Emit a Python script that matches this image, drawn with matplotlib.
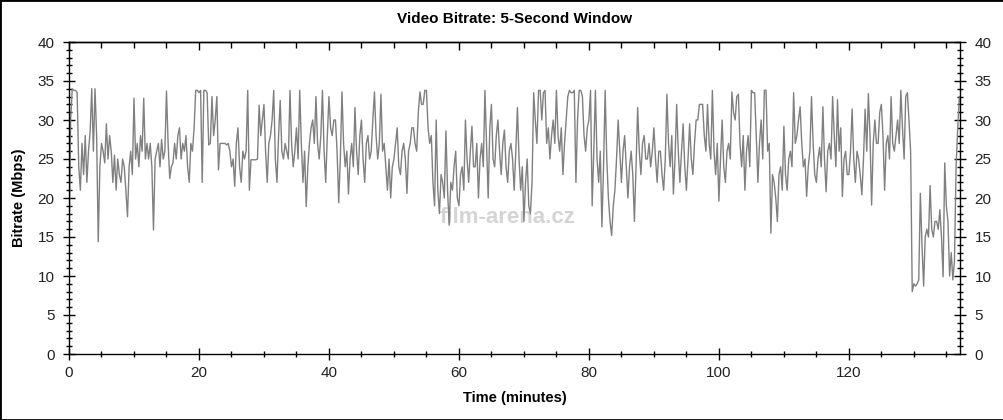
import numpy as np
import matplotlib
matplotlib.use("Agg")
import matplotlib.pyplot as plt
from matplotlib.ticker import MultipleLocator
from matplotlib.patches import Rectangle

plt.rcParams['font.family'] = ['Liberation Sans', 'DejaVu Sans']

# Bitrate (Mbps), one reading every quarter minute
sample_minutes = 0.25
bitrate = [
    13, 30, 34, 33.8, 33.8, 33.5, 24, 21, 27, 23, 28, 22, 26, 28.5, 34, 26, 34, 28, 14.4, 24,
    27, 26, 24.5, 29.5, 25, 28, 26, 22, 25.5, 21, 25, 23, 22, 25, 24, 21, 17.6, 24, 26, 23,
    32.8, 25, 27, 24, 28, 26, 32.8, 25, 27, 25, 27, 24, 15.9, 25, 26, 27, 24, 27.5, 25, 26,
    33.7, 27, 22.5, 24, 24.5, 27, 25, 28, 29, 25, 27, 26, 28, 24, 22, 27, 26, 29, 33.8, 33.8,
    33.5, 33.8, 22, 33.8, 33.8, 33.5, 26.8, 27, 33, 28, 30, 33, 23.6, 27, 27, 27, 27, 26.8, 27, 26,
    24, 25, 21.5, 27, 29, 24, 22, 26, 25, 26, 33.8, 21, 24.9, 24.9, 24.9, 24.9, 25, 31.9, 28, 30,
    32, 26, 22, 27, 28, 30, 33.8, 25, 22, 28, 32.5, 26, 25, 27, 26, 25, 33.8, 27, 24, 26,
    29, 25, 33.8, 27, 22, 26, 18.9, 24, 27, 29, 30, 27, 33, 27, 25, 28, 33.8, 26, 22, 28,
    33, 29, 28, 30, 30, 26, 19.4, 25, 33.6, 27, 24, 26, 20.5, 25, 27, 24, 31.6, 26, 23, 28,
    30, 25, 22, 27, 28, 25, 26, 30, 33.6, 28, 25, 27, 33.3, 26, 27, 24, 21, 25, 20, 24,
    25, 27, 29, 24, 23, 26, 27, 25, 20.6, 26, 27, 29, 29, 27, 26, 31, 33.6, 32, 32, 33.8,
    33.8, 29, 27, 28, 22, 19, 30, 21, 18, 23, 22, 20, 28.6, 21, 16.5, 22, 21, 24, 26, 20,
    19, 23, 24, 21, 30, 25, 22, 26, 29.2, 24, 24, 27, 20, 25, 27, 24, 33.8, 27, 20, 29,
    32, 25, 24, 28, 30, 26, 23, 27, 28.7, 24, 22, 26, 27, 25, 21, 26, 31.6, 25, 21, 24,
    17, 22, 25, 19, 18, 22, 33.5, 30, 27, 33.8, 33.8, 30, 33.5, 33.8, 27, 29, 25, 28, 30, 27,
    33.8, 28, 26, 29, 23, 27, 30, 33, 33.8, 33.5, 33.5, 33.8, 22, 30, 33.8, 33.8, 33, 28, 26, 29,
    30, 33.8, 19, 26, 33.8, 25, 22, 26, 16.3, 24, 33.8, 25, 20, 17, 15.2, 19, 21, 25, 30, 26,
    22, 26, 28, 24, 20, 24, 26, 23, 17, 24, 31.6, 26, 23, 27, 28, 25, 25, 27, 24, 26,
    29, 25, 22, 26, 26, 23, 21, 25, 33.3, 27, 24, 28, 20.5, 25, 32, 26, 22, 26, 29.5, 24,
    21, 25, 29.5, 25, 23, 27, 30, 30, 32, 32, 32, 28, 26, 32, 27, 25, 33.8, 26, 23, 27,
    19.6, 25, 30, 24, 22, 26, 27, 25, 33.6, 31, 30, 33, 33.3, 27, 24, 28, 21, 26, 28, 24,
    33.8, 33.5, 33.5, 28, 22, 27, 30, 25, 33.8, 33.8, 26, 27, 15.5, 23, 22, 20, 17, 23, 24, 21,
    29.2, 23, 21, 25, 26, 24, 33.5, 27, 28, 30, 31.7, 27, 24, 25, 20.2, 24, 26, 33, 27, 23,
    22, 25, 26.5, 24, 31.7, 25, 20.8, 26, 27, 25, 33, 28, 24, 32.6, 26, 29, 20.2, 25, 26, 23,
    23, 26, 31.4, 25, 22, 26, 25, 23, 20.4, 25, 31.4, 26, 33.4, 28, 19.1, 27, 30, 27, 27, 31,
    32, 28, 21, 27, 28, 25, 33, 27, 26, 28, 30, 27, 33.8, 29, 25, 33, 33.5, 30, 26, 8,
    9, 8.7, 9, 9.5, 20.6, 14, 8.7, 15, 16, 15, 21.6, 16, 15, 17, 17, 16, 18.5, 15, 9.9, 24.5,
    19, 17, 10, 13, 9.5, 12, 24, 29, 33,
]
minutes = np.arange(len(bitrate)) * sample_minutes

y_ticks = [0, 5, 10, 15, 20, 25, 30, 35, 40]
x_ticks = [0, 20, 40, 60, 80, 100, 120]

fig = plt.figure(figsize=(10.04, 4.2), dpi=100)
ax = fig.add_axes([69 / 1004, 1 - 354 / 420, (960 - 69) / 1004, (354 - 42) / 420])

ax.plot(minutes, bitrate, color='#808080', linewidth=1.0)

ax.set_xlim(0, 137.1)
ax.set_ylim(0, 40)
ax.set_xticks(x_ticks)
ax.set_yticks(y_ticks)
ax.xaxis.set_minor_locator(MultipleLocator(5))
ax.yaxis.set_minor_locator(MultipleLocator(1))

ax.tick_params(axis='both', which='major', direction='inout', length=9, width=1,
               labelsize=11, colors='black')
ax.tick_params(axis='both', which='minor', direction='inout', length=5, width=1)
ax.tick_params(axis='y', left=True, right=True, labelleft=True, labelright=True, which='both')
ax.tick_params(axis='x', top=False, bottom=True, which='both')
ax.tick_params(axis='y', which='major', pad=6)
ax.tick_params(axis='x', which='major', pad=4)
for lab in ax.get_xticklabels() + ax.get_yticklabels():
    lab.set_color('#222222')

# top ticks pointing inward only
sec = ax.secondary_xaxis('top')
sec.set_xticks(x_ticks)
sec.xaxis.set_minor_locator(MultipleLocator(5))
sec.tick_params(which='major', direction='in', length=6, width=1, labeltop=False)
sec.tick_params(which='minor', direction='in', length=4, width=1)
sec.spines['top'].set_linewidth(1)

for s in ax.spines.values():
    s.set_linewidth(1)
    s.set_color('black')

ax.set_title('Video Bitrate: 5-Second Window', fontsize=11, fontweight='bold', pad=14)
ax.set_xlabel('Time (minutes)', fontsize=10.5, fontweight='bold', labelpad=8)
ax.set_ylabel('Bitrate (Mbps)', fontsize=10.5, fontweight='bold', labelpad=8)

# faint watermark
ax.text(67.5, 17.5, 'film-arena.cz', fontsize=16, fontweight='bold', color='#d4d4d4',
        ha='center', va='center', zorder=0)

# outer frame
fig.patches.append(Rectangle((0, 0), 1, 1, transform=fig.transFigure, fill=False,
                             edgecolor='black', linewidth=2))

fig.savefig('out.png', dpi=100)
